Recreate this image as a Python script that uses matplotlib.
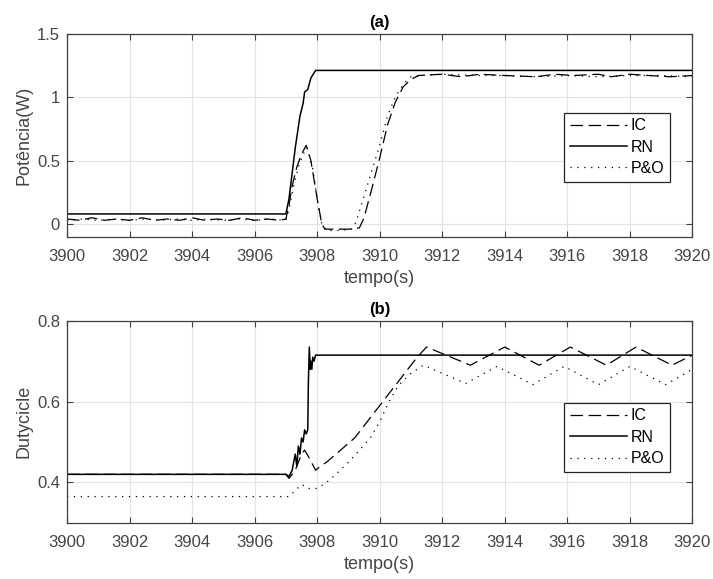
import matplotlib
matplotlib.use("Agg")
import matplotlib.pyplot as plt

plt.rcParams['font.family'] = ['Liberation Sans', 'DejaVu Sans']

# (a) potencia
t_rn_a = [3900, 3907.0, 3907.1, 3907.3, 3907.45, 3907.55, 3907.6, 3907.7, 3907.8, 3907.95, 3920]
p_rn = [0.08, 0.08, 0.2, 0.6, 0.85, 0.95, 1.04, 1.06, 1.15, 1.21, 1.21]

t_ic_a = [3900, 3900.4, 3900.8, 3901.2, 3901.6, 3902.0, 3902.4, 3902.8, 3903.2, 3903.6,
          3904.0, 3904.4, 3904.8, 3905.2, 3905.6, 3906.0, 3906.4, 3906.8, 3907.0,
          3907.1, 3907.2, 3907.35, 3907.5, 3907.65, 3907.8, 3908.0, 3908.15, 3908.25,
          3908.6, 3909.0, 3909.35, 3909.5, 3909.75, 3910.0, 3910.25, 3910.5, 3910.75,
          3911.0, 3911.25, 3912.0, 3912.6, 3913.2, 3914.0, 3915.0, 3915.6, 3916.2,
          3917.0, 3917.4, 3918.0, 3918.6, 3919.3, 3920]
p_ic = [0.04, 0.03, 0.05, 0.03, 0.04, 0.03, 0.05, 0.03, 0.04, 0.03,
        0.05, 0.03, 0.04, 0.03, 0.05, 0.03, 0.04, 0.03, 0.04,
        0.15, 0.3, 0.45, 0.55, 0.62, 0.5, 0.2, 0.0, -0.04,
        -0.04, -0.04, -0.03, 0.05, 0.28, 0.52, 0.78, 0.96, 1.08,
        1.14, 1.17, 1.18, 1.16, 1.18, 1.17, 1.16, 1.18, 1.17,
        1.18, 1.16, 1.18, 1.17, 1.16, 1.17]

t_po_a = [3900, 3900.5, 3901, 3901.5, 3902, 3902.5, 3903, 3903.5, 3904, 3904.5,
          3905, 3905.5, 3906, 3906.5, 3907.0, 3907.1, 3907.25, 3907.4, 3907.55,
          3907.68, 3907.85, 3908.0, 3908.15, 3908.3, 3908.7, 3909.1, 3909.25,
          3909.5, 3909.75, 3910.0, 3910.25, 3910.5, 3910.75, 3911.0, 3911.3,
          3912.0, 3913.0, 3914.0, 3915.0, 3916.0, 3917.0, 3918.0, 3919.0, 3920]
p_po = [0.03, 0.04, 0.03, 0.04, 0.03, 0.04, 0.03, 0.04, 0.03, 0.04,
        0.03, 0.04, 0.03, 0.04, 0.03, 0.12, 0.3, 0.45, 0.55,
        0.6, 0.45, 0.2, 0.0, -0.05, -0.05, -0.04, 0.02,
        0.22, 0.42, 0.62, 0.85, 1.0, 1.1, 1.16, 1.17,
        1.18, 1.17, 1.17, 1.16, 1.17, 1.16, 1.17, 1.17, 1.16]

# (b) dutycicle
t_rn_b = [3900, 3907.0, 3907.1, 3907.2, 3907.3, 3907.35, 3907.4, 3907.45, 3907.5,
          3907.55, 3907.6, 3907.65, 3907.7, 3907.72, 3907.75, 3907.78, 3907.8,
          3907.83, 3907.86, 3907.9, 3907.95, 3920]
d_rn = [0.42, 0.42, 0.415, 0.43, 0.47, 0.44, 0.49, 0.47, 0.51,
        0.50, 0.53, 0.52, 0.53, 0.65, 0.735, 0.68, 0.70,
        0.68, 0.71, 0.70, 0.715, 0.715]

t_ic_b = [3900, 3907.0, 3907.1, 3907.3, 3907.5, 3907.6, 3907.75, 3907.95, 3908.1,
          3908.3, 3908.6, 3908.9, 3909.2, 3909.5, 3909.8, 3910.1, 3910.5, 3910.9,
          3911.2, 3911.5, 3912.9, 3914.0, 3915.1, 3916.1, 3917.25, 3918.2, 3919.35, 3920]
d_ic = [0.42, 0.42, 0.41, 0.43, 0.47, 0.48, 0.46, 0.43, 0.44,
        0.45, 0.47, 0.49, 0.51, 0.54, 0.57, 0.60, 0.64, 0.68,
        0.71, 0.735, 0.69, 0.735, 0.69, 0.735, 0.69, 0.735, 0.69, 0.715]

t_po_b = [3900, 3907.1, 3907.3, 3907.5, 3907.75, 3908.0, 3908.3, 3908.6, 3909.0,
          3909.3, 3909.7, 3910.0, 3910.3, 3910.6, 3911.0, 3911.4, 3912.75, 3913.75,
          3914.9, 3915.9, 3917.0, 3918.0, 3919.15, 3920]
d_po = [0.365, 0.365, 0.38, 0.395, 0.385, 0.385, 0.40, 0.42, 0.45,
        0.475, 0.51, 0.55, 0.60, 0.64, 0.67, 0.69, 0.645, 0.687,
        0.642, 0.687, 0.642, 0.687, 0.642, 0.68]

x_ticks = list(range(3900, 3921, 2))
legend_labels = ['IC', 'RN', 'P&O']

dash = (0, (10, 4.5))
dot = (0, (1, 4.5))
spine_col = '#404040'


def style_axes(ax, title, ylabel, yticks, ylim):
    ax.set_xlim(3900, 3920)
    ax.set_ylim(*ylim)
    ax.set_xticks(x_ticks)
    ax.set_yticks(yticks)
    ax.grid(True, color='#e3e3e3', linewidth=0.8)
    ax.set_axisbelow(True)
    for s in ax.spines.values():
        s.set_color(spine_col)
        s.set_linewidth(0.9)
    ax.tick_params(direction='in', length=4, width=0.8, color=spine_col,
                   labelcolor='#454545', labelsize=12, top=True, right=True)
    ax.tick_params(axis='x', pad=9)
    ax.tick_params(axis='y', pad=5)
    ax.set_title(title, fontsize=12, fontweight='bold', pad=5)
    ax.set_xlabel('tempo(s)', fontsize=13, color='#454545', labelpad=4)
    ax.set_ylabel(ylabel, fontsize=13, color='#454545', labelpad=3)


fig = plt.figure(figsize=(7.13, 5.79), dpi=100)
ax1 = fig.add_axes([0.094, 0.591, 0.877, 0.351])
ax2 = fig.add_axes([0.094, 0.097, 0.877, 0.349])

ax1.plot(t_ic_a, p_ic, color='black', linewidth=0.9, linestyle=dash, label=legend_labels[0])
ax1.plot(t_rn_a, p_rn, color='black', linewidth=1.1, label=legend_labels[1])
ax1.plot(t_po_a, p_po, color='black', linewidth=0.9, linestyle=dot, label=legend_labels[2])
style_axes(ax1, '(a)', 'Potência(W)', [0, 0.5, 1, 1.5], (-0.1, 1.5))
ax1.set_yticklabels(['0', '0.5', '1', '1.5'])

ax2.plot(t_ic_b, d_ic, color='black', linewidth=0.9, linestyle=dash, label=legend_labels[0])
ax2.plot(t_rn_b, d_rn, color='black', linewidth=1.1, label=legend_labels[1])
ax2.plot(t_po_b, d_po, color='black', linewidth=0.9, linestyle=dot, label=legend_labels[2])
style_axes(ax2, '(b)', 'Dutycicle', [0.4, 0.6, 0.8], (0.3, 0.8))

for ax, ytop in [(ax1, 0.611), (ax2, 0.594)]:
    leg = ax.legend(loc='upper left', bbox_to_anchor=(0.795, ytop), fontsize=11.5,
                    fancybox=False, framealpha=1, edgecolor='#262626',
                    handlelength=3.6, handletextpad=0.2, labelspacing=0.4,
                    borderpad=0.35, borderaxespad=0)
    leg.get_frame().set_linewidth(0.9)

fig.savefig('out.png', dpi=100)
